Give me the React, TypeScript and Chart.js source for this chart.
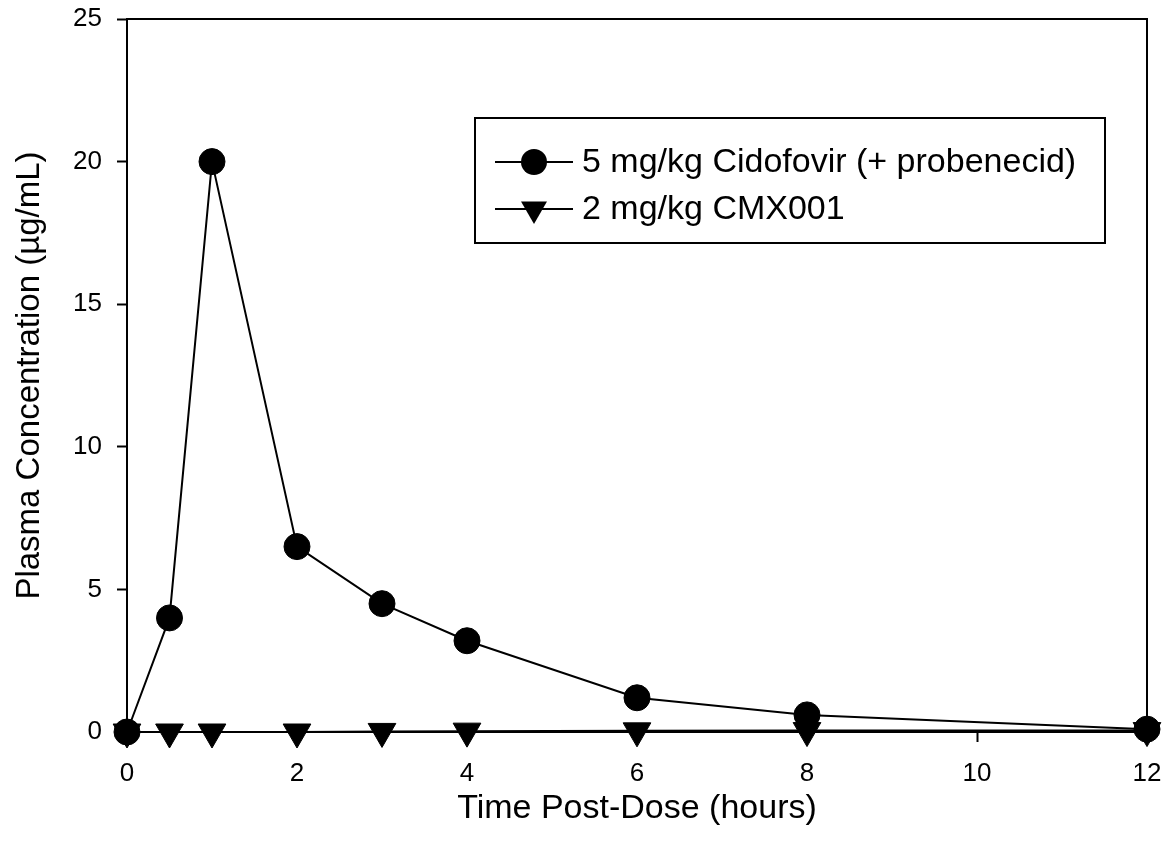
import React, { useEffect, useRef } from "react";
import { Chart, registerables } from "chart.js";

Chart.register(...registerables);

const timeHours = [0, 0.5, 1, 2, 3, 4, 6, 8, 12];
const cidofovir = [0, 4.0, 20.0, 6.5, 4.5, 3.2, 1.2, 0.6, 0.1];
const cmx001 = [0, 0, 0, 0, 0.02, 0.03, 0.04, 0.05, 0.05];
const seriesLabels = ["5 mg/kg Cidofovir (+ probenecid)", "2 mg/kg CMX001"];
const xTitle = "Time Post-Dose (hours)";
const yTitle = "Plasma Concentration (µg/mL)";

const FONT = "'Liberation Sans', Arial, sans-serif";

const frameAndLegend = {
  id: "frameAndLegend",
  afterDatasetsDraw(chart: any) {
    const { ctx, chartArea } = chart;
    ctx.save();
    ctx.strokeStyle = "#000";
    ctx.lineWidth = 2;
    ctx.beginPath();
    ctx.moveTo(chartArea.left, chartArea.top);
    ctx.lineTo(chartArea.right, chartArea.top);
    ctx.lineTo(chartArea.right, chartArea.bottom);
    ctx.stroke();

    // legend box
    const bx = 475, by = 118, bw = 630, bh = 125;
    ctx.lineWidth = 2;
    ctx.strokeRect(bx, by, bw, bh);
    const rows = [
      { y: 162, style: "circle" },
      { y: 209, style: "triangle" },
    ];
    rows.forEach((r, i) => {
      ctx.beginPath();
      ctx.moveTo(495, r.y);
      ctx.lineTo(573, r.y);
      ctx.lineWidth = 2;
      ctx.stroke();
      ctx.fillStyle = "#000";
      ctx.beginPath();
      if (r.style === "circle") {
        ctx.arc(534, r.y, 13, 0, Math.PI * 2);
      } else {
        const rad = 15;
        ctx.moveTo(534, r.y + rad);
        ctx.lineTo(534 - rad * Math.sin(Math.PI / 3), r.y - rad / 2);
        ctx.lineTo(534 + rad * Math.sin(Math.PI / 3), r.y - rad / 2);
        ctx.closePath();
      }
      ctx.fill();
      ctx.font = `34px ${FONT}`;
      ctx.textBaseline = "middle";
      ctx.textAlign = "left";
      ctx.fillText(seriesLabels[i], 582, r.y + 1);
    });
    ctx.restore();
  },
};

export default function App() {
  const ref = useRef<HTMLCanvasElement>(null);
  useEffect(() => {
    document.body.style.margin = "0";
    const chart = new Chart(ref.current!, {
      type: "line",
      data: {
        datasets: [
          {
            label: seriesLabels[0],
            data: timeHours.map((t, i) => ({ x: t, y: cidofovir[i] })),
            borderColor: "#000",
            backgroundColor: "#000",
            borderWidth: 2,
            pointStyle: "circle",
            pointRadius: 13,
            pointHoverRadius: 13,
            pointBorderWidth: 1,
            tension: 0,
          },
          {
            label: seriesLabels[1],
            data: timeHours.map((t, i) => ({ x: t, y: cmx001[i] })),
            borderColor: "#000",
            backgroundColor: "#000",
            borderWidth: 2,
            pointStyle: "triangle",
            rotation: 180,
            pointRadius: 16,
            pointHoverRadius: 16,
            pointBorderWidth: 1,
            tension: 0,
          },
        ],
      },
      options: {
        animation: false,
        responsive: false,
        clip: false as any,
        layout: { padding: { top: 19, right: 17, left: 0, bottom: 0 } },
        plugins: { legend: { display: false }, tooltip: { enabled: false } },
        scales: {
          x: {
            type: "linear",
            min: 0,
            max: 12,
            afterFit: (s: any) => {
              s.height = 118;
              s.paddingLeft = 0;
              s.paddingRight = 0;
            },
            ticks: {
              stepSize: 2,
              color: "#000",
              font: { family: FONT, size: 26 },
              padding: 16,
              maxRotation: 0,
            },
            grid: {
              drawOnChartArea: false,
              drawTicks: true,
              tickLength: 10,
              tickWidth: 2,
              tickColor: "#000",
            },
            border: { color: "#000", width: 2 },
            title: {
              display: true,
              text: xTitle,
              color: "#000",
              font: { family: FONT, size: 34 },
              padding: { top: 0, bottom: 21 },
            },
          },
          y: {
            type: "linear",
            min: 0,
            max: 25,
            afterFit: (s: any) => {
              s.width = 127;
              s.paddingTop = 0;
              s.paddingBottom = 0;
            },
            ticks: {
              stepSize: 5,
              color: "#000",
              font: { family: FONT, size: 26 },
              padding: 15,
            },
            grid: {
              drawOnChartArea: false,
              drawTicks: true,
              tickLength: 10,
              tickWidth: 2,
              tickColor: "#000",
            },
            border: { color: "#000", width: 2 },
            title: {
              display: true,
              text: yTitle,
              color: "#000",
              font: { family: FONT, size: 33 },
              padding: { bottom: 0, top: 10 },
            },
          },
        },
      },
      plugins: [frameAndLegend],
    });
    return () => chart.destroy();
  }, []);
  return (
    <div style={{ position: "absolute", left: 0, top: 0, width: 1164, height: 850, background: "#fff" }}>
      <canvas ref={ref} width={1164} height={850} style={{ width: 1164, height: 850 }} />
    </div>
  );
}
